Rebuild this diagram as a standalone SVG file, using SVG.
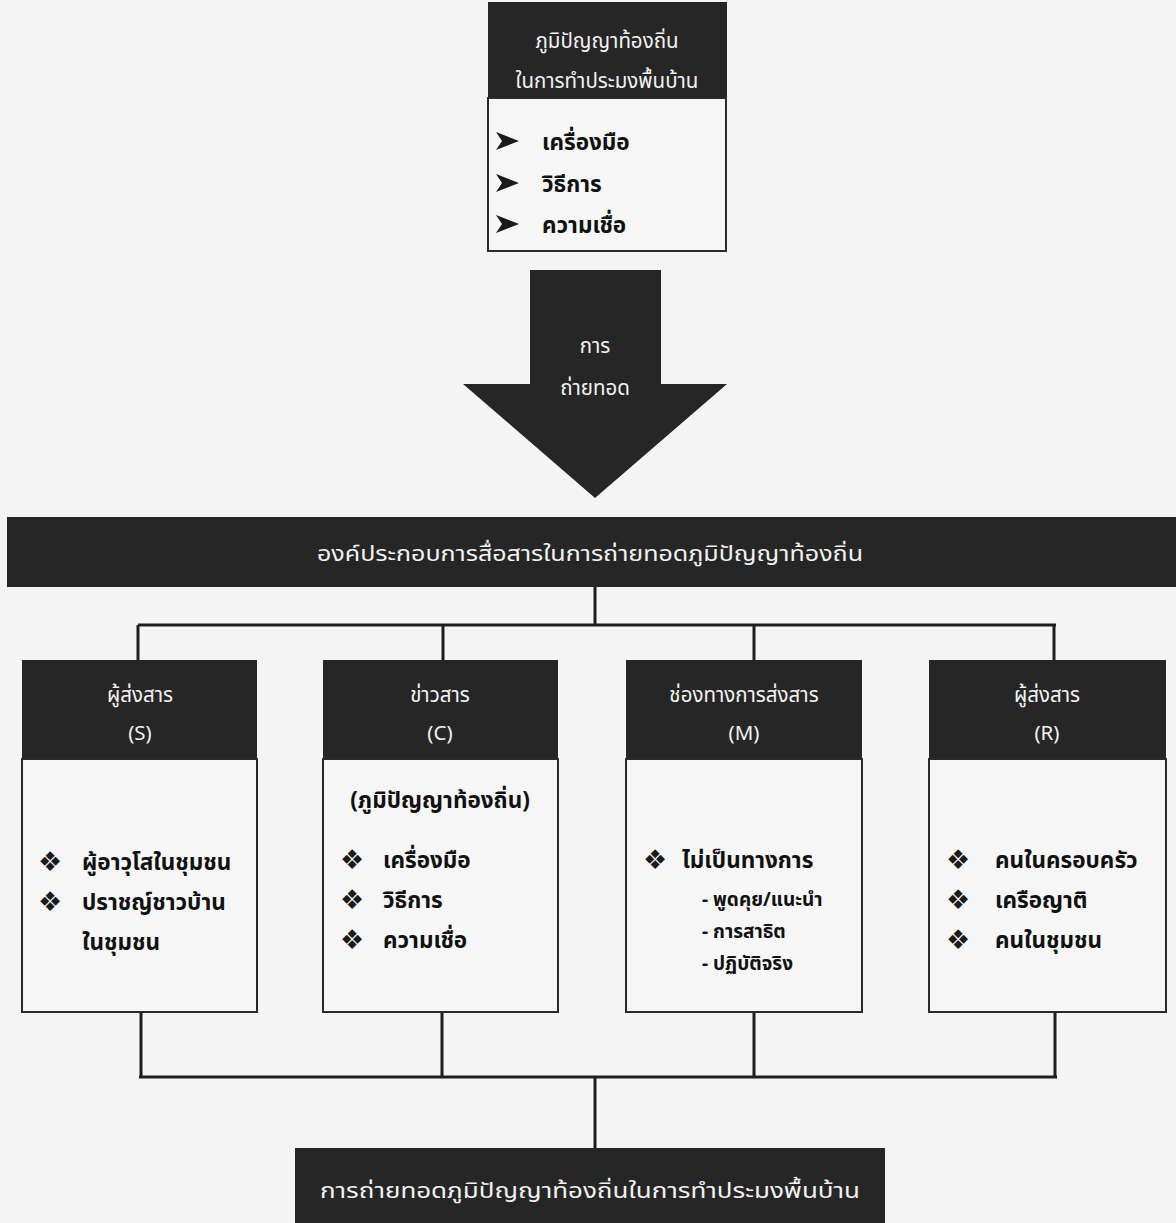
<svg xmlns="http://www.w3.org/2000/svg" width="1176" height="1223" viewBox="0 0 1176 1223">
<style>
.dark{fill:#262626}
.body{fill:#f6f6f6;stroke:#2a2a2a;stroke-width:2}
.ht{font-family:"Noto Sans Thai","Noto Sans","DejaVu Sans",sans-serif;font-size:20.5px;fill:#f2f2f2;text-anchor:middle}
.bt{font-family:"Noto Sans Thai","Noto Sans","DejaVu Sans",sans-serif;font-size:22.5px;font-weight:bold;fill:#111}
.st{font-family:"Noto Sans Thai","Noto Sans","DejaVu Sans",sans-serif;font-size:19px;font-weight:bold;fill:#111}
.sym{font-family:"DejaVu Sans",sans-serif;font-size:27px;fill:#1a1a1a}
.arr{fill:#1a1a1a}
.ct{font-family:"Noto Sans Thai","Noto Sans","DejaVu Sans",sans-serif;font-size:21px;fill:#f2f2f2;text-anchor:middle}
.conn{stroke:#1e1e1e;fill:none;stroke-width:3}
</style>
<defs>
<path id="chev" d="M0,-9 L23,0 L0,9 L6,0 Z"/>
</defs>
<rect width="1176" height="1223" fill="#f4f4f4"/>
<g id="source">
<rect class="dark" x="488" y="2" width="239" height="96"/>
<rect class="body" x="488" y="98" width="238" height="153"/>
<text class="ht" x="607" y="48">ภูมิปัญญาท้องถิ่น</text>
<text class="ht" x="607" y="88">ในการทำประมงพื้นบ้าน</text>
<use href="#chev" class="arr" x="496" y="141"/>
<text class="bt" x="542" y="150">เครื่องมือ</text>
<use href="#chev" class="arr" x="496" y="183"/>
<text class="bt" x="542" y="192">วิธีการ</text>
<use href="#chev" class="arr" x="496" y="224"/>
<text class="bt" x="542" y="233">ความเชื่อ</text>
</g>
<g id="transfer-arrow">
<polygon class="dark" points="530,270 661,270 661,384 727,384 595,498 463,384 530,384"/>
<text class="ht" x="595" y="353">การ</text>
<text class="ht" x="595" y="395">ถ่ายทอด</text>
</g>
<g id="components">
<rect class="dark" x="7" y="517" width="1169" height="70"/>
<text class="ct" x="590" y="561" textLength="546" lengthAdjust="spacingAndGlyphs">องค์ประกอบการสื่อสารในการถ่ายทอดภูมิปัญญาท้องถิ่น</text>
</g>
<g id="connectors">
<path class="conn" d="M595,587 V625"/>
<path class="conn" stroke-width="4" d="M138,625 H1056"/>
<path class="conn" d="M138,625 V660 M443,625 V660 M754,625 V660 M1054,625 V660"/>
<path class="conn" d="M141,1012 V1077 M442,1012 V1077 M754,1012 V1077 M1055,1012 V1077"/>
<path class="conn" stroke-width="4" d="M139,1077 H1057"/>
<path class="conn" d="M595,1077 V1148"/>
</g>
<g id="sender">
<rect class="dark" x="22" y="660" width="235" height="99"/>
<rect class="body" x="22" y="759" width="235" height="253"/>
<text class="ht" x="140" y="702">ผู้ส่งสาร</text>
<text class="ht" x="140" y="740">(S)</text>
<text class="sym" x="38" y="871">❖</text>
<text class="bt" x="82" y="870">ผู้อาวุโสในชุมชน</text>
<text class="sym" x="38" y="911">❖</text>
<text class="bt" x="82" y="910">ปราชญ์ชาวบ้าน</text>
<text class="bt" x="82" y="950">ในชุมชน</text>
</g>
<g id="message">
<rect class="dark" x="323" y="660" width="235" height="99"/>
<rect class="body" x="323" y="759" width="235" height="253"/>
<text class="ht" x="440" y="702">ข่าวสาร</text>
<text class="ht" x="440" y="740">(C)</text>
<text class="bt" x="440" y="808" text-anchor="middle" font-size="24">(ภูมิปัญญาท้องถิ่น)</text>
<text class="sym" x="340" y="869">❖</text>
<text class="bt" x="383" y="868">เครื่องมือ</text>
<text class="sym" x="340" y="909">❖</text>
<text class="bt" x="383" y="908">วิธีการ</text>
<text class="sym" x="340" y="949">❖</text>
<text class="bt" x="383" y="948">ความเชื่อ</text>
</g>
<g id="channel">
<rect class="dark" x="626" y="660" width="236" height="99"/>
<rect class="body" x="626" y="759" width="236" height="253"/>
<text class="ht" x="744" y="702">ช่องทางการส่งสาร</text>
<text class="ht" x="744" y="740">(M)</text>
<text class="sym" x="643" y="869">❖</text>
<text class="bt" x="682" y="868" font-size="24">ไม่เป็นทางการ</text>
<text class="st" x="702" y="906">- พูดคุย/แนะนำ</text>
<text class="st" x="702" y="938">- การสาธิต</text>
<text class="st" x="702" y="970">- ปฏิบัติจริง</text>
</g>
<g id="receiver">
<rect class="dark" x="929" y="660" width="237" height="99"/>
<rect class="body" x="929" y="759" width="237" height="253"/>
<text class="ht" x="1047" y="702">ผู้ส่งสาร</text>
<text class="ht" x="1047" y="740">(R)</text>
<text class="sym" x="946" y="869">❖</text>
<text class="bt" x="995" y="868">คนในครอบครัว</text>
<text class="sym" x="946" y="909">❖</text>
<text class="bt" x="995" y="908">เครือญาติ</text>
<text class="sym" x="946" y="949">❖</text>
<text class="bt" x="995" y="948">คนในชุมชน</text>
</g>
<g id="result">
<rect class="dark" x="295" y="1148" width="590" height="80"/>
<text class="ct" x="590" y="1198" textLength="540" lengthAdjust="spacingAndGlyphs">การถ่ายทอดภูมิปัญญาท้องถิ่นในการทำประมงพื้นบ้าน</text>
</g>
</svg>
